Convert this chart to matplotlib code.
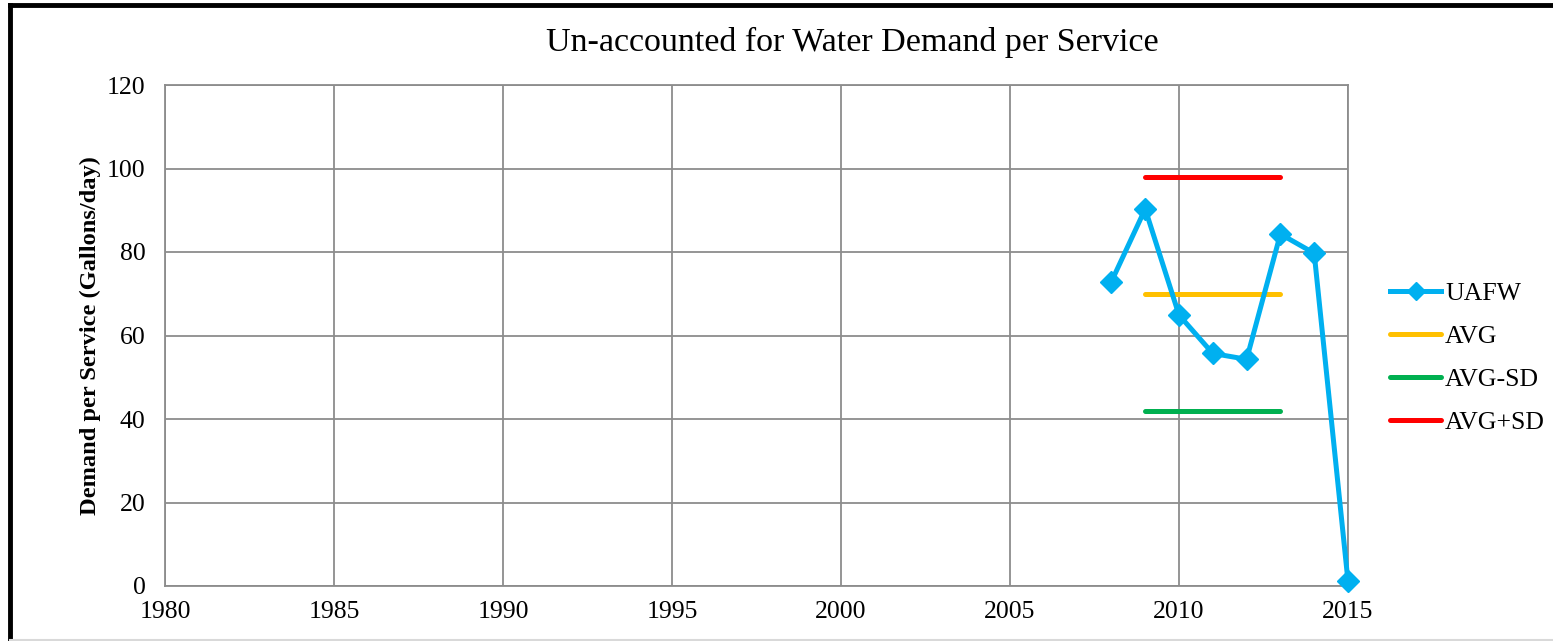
import numpy as np
import matplotlib.pyplot as plt
from matplotlib.lines import Line2D

plt.rcParams.update({
    'font.family': ['Liberation Serif', 'DejaVu Serif'],
    'font.size': 18.5,
})

# data
years = [2008, 2009, 2010, 2011, 2012, 2013, 2014, 2015]
uafw = [72.9, 90.3, 64.9, 55.7, 54.3, 84.3, 79.7, 1.1]
band_years = [2009, 2013]
avg = 69.9
avg_minus_sd = 41.8
avg_plus_sd = 98.0

xticks = [1980, 1985, 1990, 1995, 2000, 2005, 2010, 2015]
yticks = [0, 20, 40, 60, 80, 100, 120]

BLUE = '#00B0F0'
GOLD = '#FFC000'
GREEN = '#00B050'
RED = '#FF0000'
GRID = '#8C8C8C'

fig = plt.figure(figsize=(15.53, 6.41), dpi=100)
ax = fig.add_axes([165 / 1553, 55 / 641, 1183 / 1553, 501 / 641])

ax.plot(years, uafw, color=BLUE, lw=3.6, marker='D', markersize=11,
        label='UAFW', clip_on=False, zorder=5, solid_joinstyle='round')
ax.plot(band_years, [avg, avg], color=GOLD, lw=3.6, solid_capstyle='round', label='AVG', zorder=4)
ax.plot(band_years, [avg_minus_sd, avg_minus_sd], color=GREEN, lw=3.6, solid_capstyle='round',
        label='AVG-SD', zorder=4)
ax.plot(band_years, [avg_plus_sd, avg_plus_sd], color=RED, lw=3.6, solid_capstyle='round',
        label='AVG+SD', zorder=4)

ax.set_xlim(1980, 2015)
ax.set_ylim(0, 120)
ax.set_xticks(xticks)
ax.set_yticks(yticks)
ax.grid(True, color=GRID, lw=1.3)
for s in ax.spines.values():
    s.set_color(GRID)
    s.set_linewidth(1.3)
ax.tick_params(length=0)
ax.tick_params(axis='x', pad=11)
ax.tick_params(axis='y', pad=14)

ax.set_ylabel('Demand per Service (Gallons/day)', fontsize=17.6, fontweight='bold', labelpad=4)
fig.text(852 / 1553, 1 - 42 / 641, 'Un-accounted for Water Demand per Service',
         ha='center', va='center', fontsize=24.5)

leg = ax.legend(loc='center left', bbox_to_anchor=(1390 / 1553, 1 - 358 / 641),
                bbox_transform=fig.transFigure, frameon=False, handlelength=2.0,
                handletextpad=0.15, labelspacing=0.78, borderaxespad=0, borderpad=0)
for h in leg.legend_handles:
    h.set_markersize(9)

# outer frame like the pasted chart
fig.add_artist(Line2D([10 / 1553, 10 / 1553], [0, 1 - 5 / 641], transform=fig.transFigure,
                      color='black', lw=3.5))
fig.add_artist(Line2D([10 / 1553, 1], [1 - 5 / 641, 1 - 5 / 641], transform=fig.transFigure,
                      color='black', lw=3.5))
fig.add_artist(Line2D([10 / 1553, 1], [1.5 / 641, 1.5 / 641], transform=fig.transFigure,
                      color='#D9D9D9', lw=1.5))

fig.savefig('out.png', dpi=100)
